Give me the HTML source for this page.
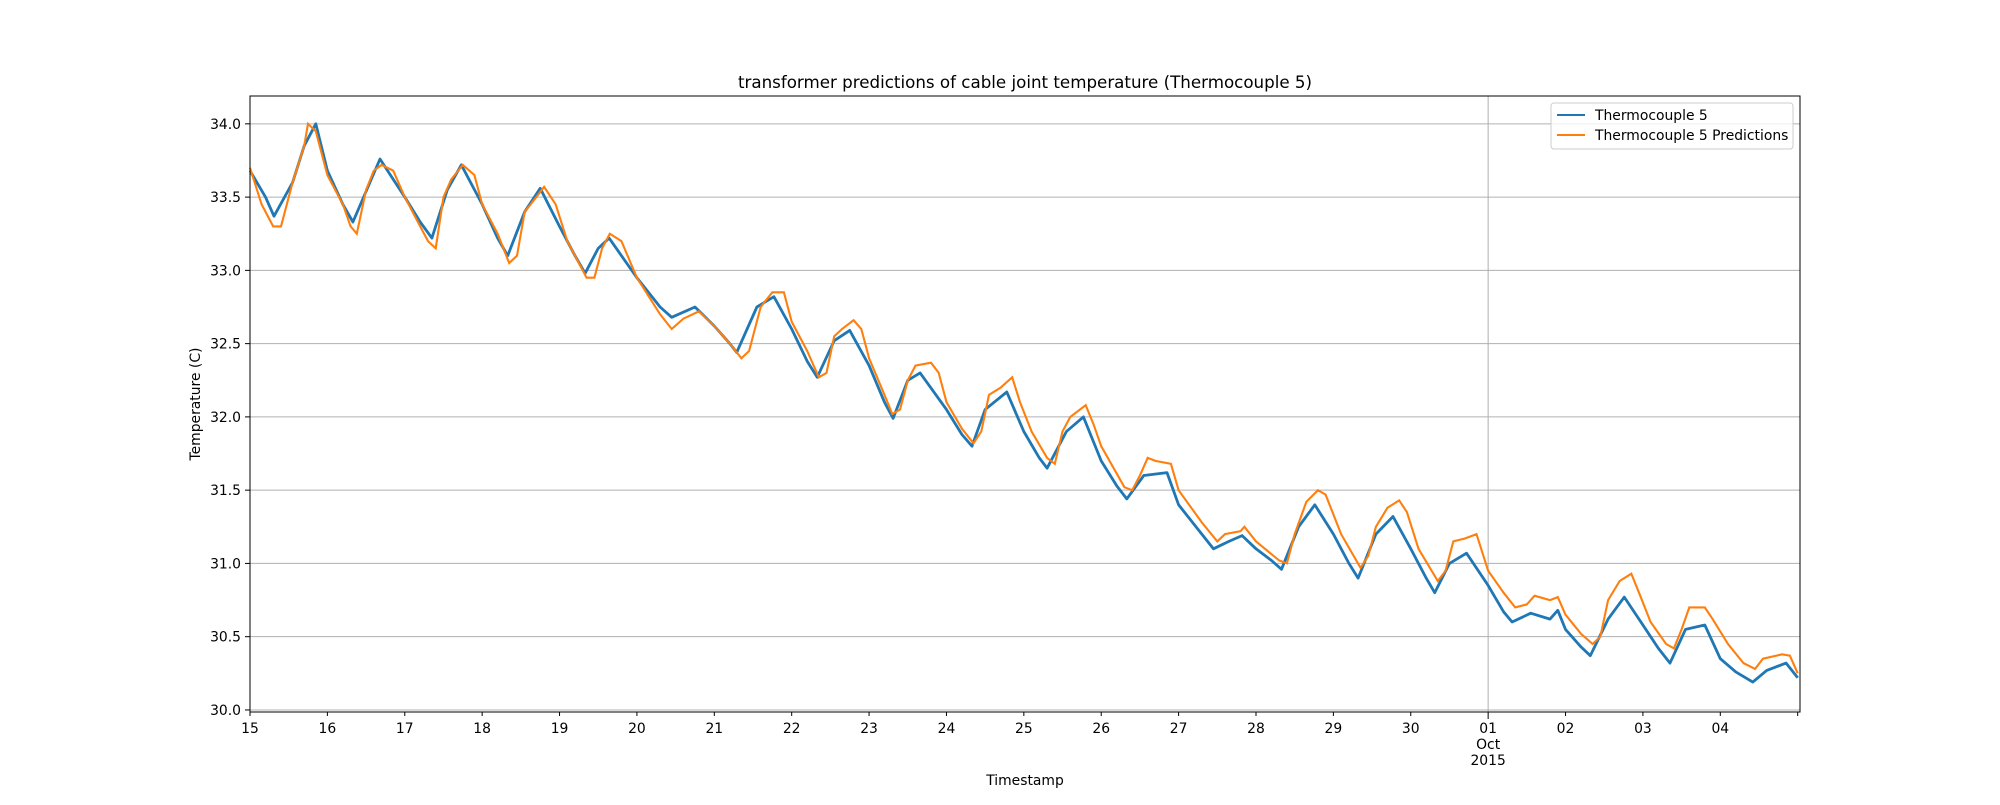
<!DOCTYPE html>
<html><head><meta charset="utf-8"><style>
html,body{margin:0;padding:0;background:#fff;}
svg text{font-family:"DejaVu Sans","Liberation Sans",sans-serif;fill:#000;}
</style></head><body>
<svg id="chart" width="2000" height="800" xmlns="http://www.w3.org/2000/svg">
<rect width="2000" height="800" fill="#fff"/>
<text x="1025" y="88" font-size="16.7" text-anchor="middle">transformer predictions of cable joint temperature (Thermocouple 5)</text>
<g id="grid"></g>
<g id="ticks"></g>
<g id="series"></g>
<rect x="250" y="96" width="1550" height="616" fill="none" stroke="#000" stroke-width="1"/>
<text x="1025" y="785" font-size="13.9" text-anchor="middle">Timestamp</text>
<text x="200" y="404" font-size="13.9" text-anchor="middle" transform="rotate(-90 200 404)">Temperature (C)</text>
<g>
<rect x="1551" y="103" width="242" height="46" rx="3" fill="#fff" fill-opacity="0.8" stroke="#ccc"/>
<line x1="1557" y1="115" x2="1585" y2="115" stroke="#1f77b4" stroke-width="2.1"/>
<text x="1595" y="120" font-size="13.9">Thermocouple 5</text>
<line x1="1557" y1="135" x2="1585" y2="135" stroke="#ff7f0e" stroke-width="2.1"/>
<text x="1595" y="140" font-size="13.9">Thermocouple 5 Predictions</text>
</g>
</svg>
<script>
const actualDays=[0,0.2,0.31,0.55,0.7,0.85,1.0,1.2,1.33,1.55,1.68,2.0,2.2,2.35,2.55,2.73,3.0,3.2,3.33,3.55,3.75,4.0,4.2,4.33,4.5,4.64,5.0,5.3,5.45,5.75,6.0,6.2,6.29,6.55,6.77,7.0,7.2,7.33,7.55,7.75,8.0,8.2,8.31,8.5,8.66,9.0,9.2,9.33,9.5,9.78,10.0,10.2,10.3,10.55,10.77,11.0,11.2,11.33,11.55,11.85,12.0,12.3,12.45,12.65,12.82,13.0,13.2,13.33,13.55,13.76,14.0,14.2,14.32,14.55,14.77,15.0,15.2,15.31,15.5,15.72,16.0,16.2,16.31,16.55,16.8,16.9,17.0,17.2,17.32,17.55,17.76,18.0,18.2,18.35,18.55,18.8,19.0,19.2,19.42,19.6,19.85,20.0];
const actualVals=[33.68,33.5,33.37,33.6,33.85,34.0,33.68,33.45,33.33,33.6,33.76,33.5,33.33,33.22,33.55,33.72,33.45,33.22,33.1,33.4,33.56,33.3,33.1,32.98,33.15,33.22,32.95,32.75,32.68,32.75,32.62,32.5,32.44,32.75,32.82,32.6,32.38,32.27,32.52,32.59,32.35,32.1,31.99,32.25,32.3,32.05,31.88,31.8,32.05,32.17,31.9,31.72,31.65,31.9,32.0,31.7,31.53,31.44,31.6,31.62,31.4,31.2,31.1,31.15,31.19,31.1,31.02,30.96,31.25,31.4,31.2,31.0,30.9,31.2,31.32,31.1,30.9,30.8,31.0,31.07,30.85,30.67,30.6,30.66,30.62,30.68,30.55,30.43,30.37,30.62,30.77,30.58,30.42,30.32,30.55,30.58,30.35,30.26,30.19,30.27,30.32,30.22];
const predDays=[0,0.15,0.3,0.4,0.55,0.7,0.75,0.85,1.0,1.2,1.3,1.38,1.5,1.6,1.7,1.85,2.0,2.2,2.3,2.4,2.5,2.6,2.75,2.9,3.0,3.2,3.35,3.45,3.55,3.7,3.8,3.95,4.1,4.35,4.45,4.55,4.65,4.8,5.0,5.3,5.45,5.6,5.8,6.0,6.2,6.35,6.45,6.6,6.75,6.9,7.0,7.2,7.35,7.45,7.55,7.65,7.8,7.9,8.0,8.2,8.3,8.4,8.5,8.6,8.8,8.9,9.0,9.2,9.35,9.45,9.55,9.7,9.85,9.95,10.1,10.3,10.4,10.5,10.6,10.8,10.9,11.0,11.3,11.4,11.5,11.6,11.7,11.9,12.0,12.3,12.5,12.6,12.8,12.85,13.0,13.3,13.4,13.5,13.65,13.8,13.9,14.1,14.35,14.45,14.55,14.7,14.85,14.95,15.1,15.35,15.45,15.55,15.7,15.85,16.0,16.2,16.35,16.5,16.6,16.8,16.9,17.0,17.2,17.35,17.45,17.55,17.7,17.85,17.95,18.1,18.3,18.4,18.5,18.6,18.8,18.9,19.1,19.3,19.45,19.55,19.8,19.9,20.0];
const predVals=[33.7,33.45,33.3,33.3,33.6,33.85,34.0,33.95,33.65,33.45,33.3,33.25,33.55,33.68,33.72,33.68,33.5,33.3,33.2,33.15,33.5,33.62,33.72,33.65,33.45,33.25,33.05,33.1,33.4,33.5,33.57,33.45,33.2,32.95,32.95,33.15,33.25,33.2,32.95,32.7,32.6,32.67,32.72,32.62,32.5,32.4,32.45,32.75,32.85,32.85,32.65,32.45,32.27,32.3,32.55,32.6,32.66,32.6,32.4,32.15,32.02,32.05,32.25,32.35,32.37,32.3,32.1,31.92,31.82,31.9,32.15,32.2,32.27,32.1,31.9,31.72,31.68,31.9,32.0,32.08,31.95,31.8,31.52,31.5,31.6,31.72,31.7,31.68,31.5,31.28,31.15,31.2,31.22,31.25,31.15,31.02,31.0,31.2,31.42,31.5,31.47,31.2,30.97,31.05,31.25,31.38,31.43,31.35,31.1,30.88,30.95,31.15,31.17,31.2,30.95,30.8,30.7,30.72,30.78,30.75,30.77,30.65,30.52,30.45,30.5,30.75,30.88,30.93,30.8,30.6,30.45,30.42,30.55,30.7,30.7,30.62,30.45,30.32,30.28,30.35,30.38,30.37,30.25];
const yTicks=[30.0,30.5,31.0,31.5,32.0,32.5,33.0,33.5,34.0];
const xTickLabels=["15","16","17","18","19","20","21","22","23","24","25","26","27","28","29","30","01","02","03","04"];
const NS="http://www.w3.org/2000/svg";
const X0=250,X1=1800,Y0=712,Y1=96,dMin=0,dMax=20.03,vMin=29.986,vMax=34.19;
function xs(d){return X0+(d-dMin)/(dMax-dMin)*(X1-X0);}
function ys(v){return Y0-(v-vMin)/(vMax-vMin)*(Y0-Y1);}
function mk(tag,attrs,parent){const e=document.createElementNS(NS,tag);for(const k in attrs)e.setAttribute(k,attrs[k]);parent.appendChild(e);return e;}
const grid=document.getElementById('grid'),ticks=document.getElementById('ticks'),series=document.getElementById('series');
yTicks.forEach(v=>{
  const y=ys(v);
  const g=mk('line',{x1:X0,x2:X1,y1:y,y2:y,stroke:'#b0b0b0','stroke-width':1},grid);
  
  
  mk('line',{x1:X0-5,x2:X0,y1:y,y2:y,stroke:'#000'},ticks);
  const t=mk('text',{x:X0-9,y:y+5,'font-size':13.9,'text-anchor':'end'},ticks);
  t.textContent=v.toFixed(1);
  
  
});
const octIdx=xTickLabels.indexOf("01");
const gx=mk('line',{x1:xs(octIdx),x2:xs(octIdx),y1:Y1,y2:Y0,stroke:'#b0b0b0','stroke-width':1},grid);


for(let i=0;i<=xTickLabels.length;i++){
  const x=xs(i);
  mk('line',{x1:x,x2:x,y1:Y0,y2:Y0+(i===octIdx?7:4),stroke:'#000'},ticks);
  if(i<xTickLabels.length){
    const t=mk('text',{x:x,y:733,'font-size':13.9,'text-anchor':'middle'},ticks);
    t.textContent=xTickLabels[i];
    
    
  }
}
[["Oct",749],["2015",765]].forEach(([s,y])=>{
  const t=mk('text',{x:xs(octIdx),y:y,'font-size':13.9,'text-anchor':'middle'},ticks);
  t.textContent=s;
  
  
});
let pa=actualDays.map((d,i)=>(i?'L':'M')+xs(d).toFixed(1)+','+ys(actualVals[i]).toFixed(1)).join('');
const la=mk('path',{d:pa,fill:'none',stroke:'#1f77b4','stroke-width':2.8,'stroke-linejoin':'round'},series);


let pp=predDays.map((d,i)=>(i?'L':'M')+xs(d).toFixed(1)+','+ys(predVals[i]).toFixed(1)).join('');
const lp=mk('path',{d:pp,fill:'none',stroke:'#ff7f0e','stroke-width':2.1,'stroke-linejoin':'miter'},series);


</script>
</body></html>
